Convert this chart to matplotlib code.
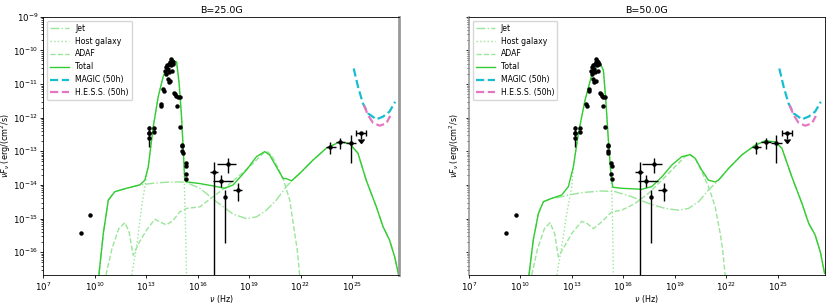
import numpy as np
import matplotlib
matplotlib.use('Agg')
import matplotlib.pyplot as plt

# -- data points (log10 nu, log10 nuFnu) --
dots_x = [9.17, 9.72]
dots_y = [-15.44, -14.90]

# optical / IR photometry (no error bars drawn)
opt_x = [13.19, 13.19, 13.19, 13.47, 13.47, 13.85, 13.87, 13.99, 14.01,
         14.12, 14.15, 14.18, 14.22, 14.25, 14.28, 14.30, 14.33, 14.35, 14.38,
         14.40, 14.42, 14.45, 14.48, 14.50, 14.55, 14.57, 14.62, 14.68,
         14.75, 14.80, 14.83, 14.96, 14.96, 15.09, 15.11, 15.08, 15.12,
         15.30, 15.32, 15.30, 15.34]
opt_y = [-12.32, -12.47, -12.62, -12.32, -12.42, -11.60, -11.65, -11.16, -11.20,
         -10.62, -10.50, -10.70, -10.45, -10.85, -10.55, -10.95, -10.40, -10.65, -10.35,
         -10.90, -10.27, -10.45, -10.32, -10.60, -10.36, -10.40, -11.26, -11.30,
         -11.36, -11.65, -11.38, -11.38, -12.27, -12.80, -12.85, -12.98, -13.05,
         -13.36, -13.45, -13.68, -13.82]

# mid-IR points with vertical error bars
mir_x = [13.19]
mir_y = [-12.47]
mir_ylo = [-12.87]
mir_yhi = [-12.25]

# X-ray points
xr_x = [16.96, 17.77, 17.35, 17.62, 18.36]
xr_y = [-13.63, -13.38, -13.88, -14.35, -14.15]
xr_xlo = [16.71, 17.10, 16.88, 17.62, 18.05]
xr_xhi = [17.17, 18.26, 18.05, 17.62, 18.57]
xr_ylo = [-20.0, -13.65, -14.06, -15.73, -14.48]
xr_yhi = [-13.32, -13.20, -13.71, -14.15, -13.94]

# gamma-ray points
gr_x = [23.74, 24.32, 24.92]
gr_y = [-12.87, -12.72, -12.75]
gr_xlo = [23.50, 24.05, 24.63]
gr_xhi = [24.05, 24.60, 25.25]
gr_ylo = [-13.08, -12.94, -13.36]
gr_yhi = [-12.72, -12.60, -12.52]

# upper limit
ul_x = [25.54]
ul_y = [-12.45]
ul_xlo = [25.25]
ul_xhi = [25.84]

# sensitivity curves
magic_x = [25.10, 25.35, 25.64, 25.93, 26.42, 26.81, 27.19, 27.52]
magic_y = [-10.54, -11.08, -11.58, -11.87, -12.05, -11.97, -11.82, -11.53]
hess_x = [25.70, 25.93, 26.22, 26.61, 27.00, 27.23]
hess_y = [-11.63, -11.92, -12.15, -12.24, -12.17, -11.95]

# ---- model, B=25G ----
tot25_x = [10.24, 10.50, 10.79, 11.17, 11.85, 12.63, 12.92, 13.12, 13.41, 13.70,
           13.99, 14.28, 14.57, 14.77, 14.92, 15.06, 15.16, 15.25, 15.35, 16.13,
           16.90, 17.58, 18.07, 18.84, 19.43, 19.91, 20.20, 20.59, 20.98, 21.17,
           21.47, 21.95, 22.73, 23.50, 24.28, 24.86, 25.35, 25.83, 26.42, 26.81,
           27.19, 27.49, 27.72]
tot25_y = [-16.68, -15.44, -14.45, -14.20, -14.10, -14.00, -13.86, -13.46, -12.27, -11.38,
           -10.78, -10.44, -10.31, -10.34, -10.98, -11.97, -12.96, -13.86, -13.91, -13.96,
           -14.03, -14.10, -14.00, -13.56, -13.16, -13.01, -13.11, -13.46, -13.81, -13.81,
           -13.88, -13.66, -13.26, -12.91, -12.72, -12.77, -13.06, -13.86, -14.65, -15.24,
           -15.64, -16.14, -16.68]
jet25_x = [10.24, 10.50, 10.79, 11.17, 11.85, 12.63, 13.41, 14.18, 14.96, 15.35,
           16.13, 17.10, 18.07, 18.84, 19.43, 20.01, 20.59, 21.17, 21.56, 21.95,
           22.73, 23.50, 24.28, 24.86, 25.35, 25.83, 26.42, 26.81, 27.19, 27.49, 27.72]
jet25_y = [-16.68, -15.44, -14.45, -14.20, -14.10, -14.00, -13.95, -13.92, -13.91, -13.93,
           -14.10, -14.50, -14.87, -15.00, -14.95, -14.75, -14.45, -14.05, -13.85, -13.66,
           -13.26, -12.91, -12.72, -12.77, -13.06, -13.86, -14.65, -15.24, -15.64, -16.14, -16.68]
host25_x = [12.15, 12.44, 12.73, 13.02, 13.21, 13.41, 13.70, 13.99, 14.28, 14.57,
            14.77, 14.92, 15.06, 15.16, 15.22, 15.28, 15.35]
host25_y = [-16.68, -15.84, -14.65, -13.76, -13.16, -12.27, -11.38, -10.78, -10.44, -10.31,
            -10.34, -10.98, -11.97, -12.96, -13.90, -15.00, -16.68]
adaf25_x = [10.65, 11.00, 11.40, 11.76, 12.00, 12.24, 12.60, 13.02, 13.50, 13.80,
            14.18, 14.57, 14.96, 15.35, 16.13, 16.90, 17.68, 18.46, 19.23, 19.82,
            20.10, 20.40, 20.98, 21.37, 21.66, 21.80, 21.95]
adaf25_y = [-16.68, -15.90, -15.30, -15.12, -15.40, -16.09, -15.70, -15.34, -15.02, -15.10,
            -15.19, -15.05, -14.80, -14.70, -14.65, -14.35, -14.05, -13.71, -13.36, -13.06,
            -13.02, -13.20, -13.81, -14.45, -15.44, -15.90, -16.68]

# ---- model, B=50G ----
tot50_x = [10.50, 10.75, 11.05, 11.34, 11.82, 12.41, 12.80, 13.09, 13.38, 13.77,
           14.16, 14.45, 14.65, 14.84, 14.98, 15.13, 15.29, 15.39, 15.91, 17.08,
           17.66, 18.25, 18.83, 19.41, 19.90, 20.19, 20.58, 20.97, 21.36, 21.55,
           22.14, 22.91, 23.69, 24.28, 24.86, 25.25, 25.83, 26.42, 26.81, 27.19,
           27.49, 27.74]
tot50_y = [-16.68, -15.64, -14.85, -14.50, -14.40, -14.30, -14.05, -13.46, -12.47, -11.48,
           -10.73, -10.44, -10.39, -10.59, -11.48, -12.66, -13.76, -14.07, -14.10, -14.13,
           -14.05, -13.76, -13.41, -13.16, -13.10, -13.21, -13.56, -13.86, -13.91, -13.86,
           -13.51, -13.11, -12.82, -12.69, -12.72, -12.91, -13.76, -14.55, -15.14, -15.49,
           -15.99, -16.63]
jet50_x = [10.50, 10.75, 11.05, 11.34, 11.82, 12.25, 13.00, 13.77, 14.74, 15.52,
           16.49, 17.47, 18.44, 19.22, 19.80, 20.39, 20.97, 21.46, 21.55, 22.14,
           22.91, 23.69, 24.28, 24.86, 25.25, 25.83, 26.42, 26.81, 27.19, 27.49, 27.74]
jet50_y = [-16.68, -15.64, -14.85, -14.50, -14.40, -14.37, -14.28, -14.22, -14.18, -14.20,
           -14.35, -14.55, -14.70, -14.75, -14.70, -14.50, -14.15, -13.91, -13.86, -13.51,
           -13.11, -12.82, -12.69, -12.72, -12.91, -13.76, -14.55, -15.14, -15.49, -15.99, -16.63]
host50_x = [12.12, 12.41, 12.70, 13.00, 13.09, 13.38, 13.77, 14.16, 14.45, 14.65,
            14.84, 14.98, 15.13, 15.29, 15.34, 15.38, 15.42]
host50_y = [-16.68, -15.84, -14.85, -14.05, -13.46, -12.47, -11.48, -10.73, -10.44, -10.39,
            -10.59, -11.48, -12.66, -13.76, -14.30, -15.20, -16.68]
adaf50_x = [10.66, 11.00, 11.40, 11.73, 12.00, 12.21, 12.60, 13.00, 13.58, 13.90,
            14.26, 14.74, 15.33, 15.91, 16.69, 17.47, 18.25, 19.02, 19.60, 19.90,
            20.20, 20.58, 20.97, 21.36, 21.65, 21.80, 21.94]
adaf50_y = [-16.68, -15.90, -15.30, -15.12, -15.45, -16.14, -15.80, -15.44, -15.08, -15.15,
            -15.30, -15.10, -14.80, -14.75, -14.55, -14.25, -13.86, -13.46, -13.16, -13.10,
            -13.21, -13.61, -14.05, -14.65, -15.44, -15.95, -16.68]

panels = [
    ('B=25.0G', tot25_x, tot25_y, jet25_x, jet25_y, host25_x, host25_y, adaf25_x, adaf25_y),
    ('B=50.0G', tot50_x, tot50_y, jet50_x, jet50_y, host50_x, host50_y, adaf50_x, adaf50_y),
]

def p(v):
    return 10 ** np.asarray(v, dtype=float)

fig = plt.figure(figsize=(8.3, 3.06), dpi=100)
ax1 = fig.add_axes([0.0522, 0.1013, 0.4285, 0.8441])
ax2 = fig.add_axes([0.5650, 0.1013, 0.4285, 0.8441], sharey=ax1)

green = '#33cc33'
light = '#99e699'
for ax, (title, tx, ty, jx, jy, hx, hy, ax_, ay) in zip([ax1, ax2], panels):
    ax.plot(p(jx), p(jy), '-.', color=light, lw=1.0, label='Jet')
    ax.plot(p(hx), p(hy), ':', color=light, lw=1.0, label='Host galaxy')
    ax.plot(p(ax_), p(ay), '--', color=light, lw=1.0, label='ADAF')
    ax.plot(p(tx), p(ty), '-', color=green, lw=1.0, label='Total')
    ax.plot(p(magic_x), p(magic_y), '--', color='#17becf', lw=1.6, label='MAGIC (50h)')
    ax.plot(p(hess_x), p(hess_y), '--', color='#e377c2', lw=1.6, label='H.E.S.S. (50h)')

    ax.plot(p(dots_x), p(dots_y), 'o', color='k', ms=2.2)
    ax.plot(p(opt_x), p(opt_y), 'o', color='k', ms=2.2)
    x = p(mir_x); y = p(mir_y)
    ax.errorbar(x, y, yerr=[y - p(mir_ylo), p(mir_yhi) - y], fmt='o', color='k', ms=2.2, lw=1.0)
    x = p(xr_x); y = p(xr_y)
    ax.errorbar(x, y, xerr=[x - p(xr_xlo), p(xr_xhi) - x], yerr=[y - p(xr_ylo), p(xr_yhi) - y],
                fmt='o', color='k', ms=2.2, lw=1.0)
    x = p(gr_x); y = p(gr_y)
    ax.errorbar(x, y, xerr=[x - p(gr_xlo), p(gr_xhi) - x], yerr=[y - p(gr_ylo), p(gr_yhi) - y],
                fmt='o', color='k', ms=2.2, lw=1.0)
    x = p(ul_x); y = p(ul_y)
    ax.errorbar(x, y, xerr=[x - p(ul_xlo), p(ul_xhi) - x], yerr=y * 0.35, uplims=True,
                fmt='o', color='k', ms=2.2, lw=1.0, capsize=2)

    ax.set_xscale('log')
    ax.set_yscale('log')
    ax.set_xlim(1e7, 5.5e27)
    ax.set_ylim(2.1e-17, 1e-9)
    ax.set_xticks([1e7, 1e10, 1e13, 1e16, 1e19, 1e22, 1e25])
    ax.tick_params(labelsize=6.2, length=2.5, width=0.6, pad=1.2)
    ax.tick_params(which='minor', length=1.5, width=0.5)
    ax.set_title(title, fontsize=6.8, pad=3)
    ax.set_xlabel(r'$\nu$ (Hz)', fontsize=5.8, labelpad=0)
    ax.set_ylabel(r'$\nu F_\nu$ (erg/(cm$^2$/s)', fontsize=5.8, labelpad=0)
    for s in ax.spines.values():
        s.set_linewidth(0.6)
    ax.legend(loc='upper left', fontsize=5.6, handlelength=2.4, framealpha=0.8)

plt.setp(ax2.get_yticklabels(), visible=False)
ax1.spines['right'].set_color('#999999')
ax1.spines['right'].set_linewidth(2.0)
ax2.spines['left'].set_color('#999999')
ax2.spines['left'].set_linewidth(1.2)

plt.savefig('out.png', dpi=100)
